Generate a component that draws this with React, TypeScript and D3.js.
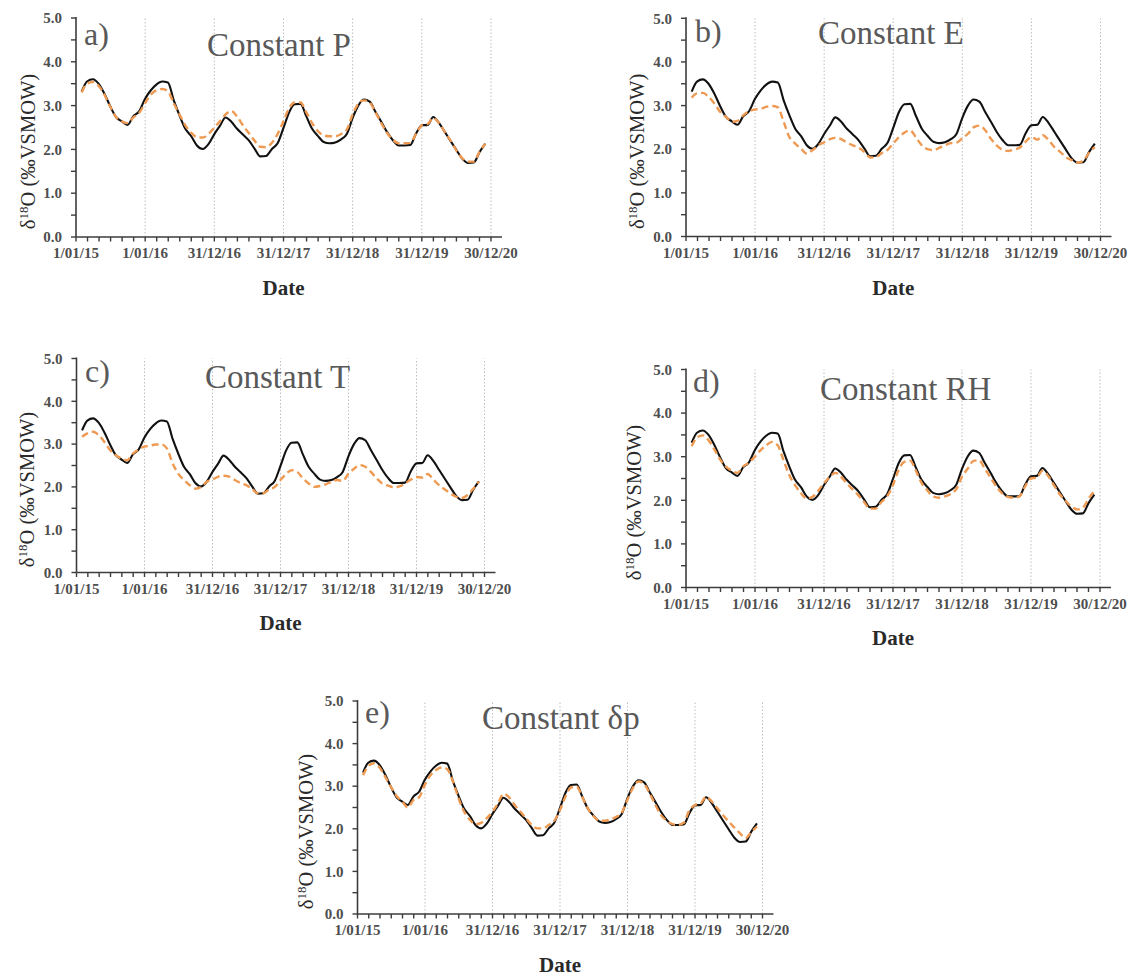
import React from 'react';
import * as d3 from 'd3';

// ---------- data (δ18O, ‰ VSMOW, monthly values, end of month Jan-2015 .. Nov-2020) ----------
const observed = [
  3.32, 3.55, 3.60, 3.50, 3.27, 2.99, 2.74, 2.64, 2.56, 2.76,
  2.87, 3.15, 3.35, 3.48, 3.55, 3.53, 3.12, 2.78, 2.47, 2.30,
  2.09, 2.01, 2.12, 2.35, 2.55, 2.73, 2.63, 2.47, 2.34, 2.21,
  2.02, 1.84, 1.85, 2.01, 2.14, 2.49, 2.86, 3.03, 3.04, 2.76,
  2.47, 2.31, 2.17, 2.14, 2.16, 2.23, 2.35, 2.72, 3.01, 3.14,
  3.09, 2.86, 2.63, 2.40, 2.21, 2.09, 2.09, 2.10, 2.36, 2.55,
  2.56, 2.74, 2.60, 2.40, 2.19, 1.99, 1.79, 1.69, 1.70, 1.94, 2.13,
];

const constantP = [
  3.30, 3.50, 3.54, 3.45, 3.25, 2.98, 2.74, 2.64, 2.60, 2.73,
  2.83, 3.05, 3.25, 3.35, 3.38, 3.33, 3.05, 2.80, 2.55, 2.38,
  2.28, 2.27, 2.35, 2.50, 2.65, 2.80, 2.88, 2.75, 2.55, 2.38,
  2.20, 2.06, 2.05, 2.15, 2.35, 2.65, 2.95, 3.07, 3.07, 2.85,
  2.60, 2.42, 2.32, 2.30, 2.30, 2.35, 2.45, 2.80, 3.05, 3.12,
  3.07, 2.85, 2.60, 2.38, 2.22, 2.14, 2.14, 2.15, 2.35, 2.55,
  2.58, 2.72, 2.60, 2.40, 2.20, 1.98, 1.80, 1.72, 1.72, 1.95, 2.13,
];

const constantE = [
  3.18, 3.28, 3.29, 3.20, 3.05, 2.86, 2.74, 2.63, 2.65, 2.78,
  2.87, 2.91, 2.93, 2.97, 2.99, 2.96, 2.63, 2.28, 2.13, 2.01,
  1.90, 1.98, 2.09, 2.16, 2.23, 2.26, 2.23, 2.15, 2.09, 2.04,
  1.94, 1.81, 1.82, 1.91, 1.98, 2.13, 2.28, 2.38, 2.43, 2.27,
  2.09, 2.00, 1.98, 2.03, 2.09, 2.14, 2.15, 2.25, 2.36, 2.50,
  2.54, 2.44, 2.24, 2.09, 1.99, 1.96, 1.99, 2.04, 2.17, 2.28,
  2.22, 2.32, 2.21, 2.05, 1.94, 1.82, 1.75, 1.69, 1.74, 1.92, 2.05,
];

const constantT = [
  3.17, 3.25, 3.29, 3.21, 3.05, 2.86, 2.74, 2.66, 2.62, 2.78,
  2.87, 2.94, 2.96, 2.99, 2.99, 2.90, 2.55, 2.31, 2.16, 2.04,
  1.96, 2.00, 2.12, 2.17, 2.24, 2.26, 2.24, 2.16, 2.09, 2.04,
  1.96, 1.85, 1.85, 1.94, 2.00, 2.16, 2.31, 2.39, 2.35, 2.20,
  2.08, 2.00, 2.02, 2.06, 2.12, 2.16, 2.14, 2.31, 2.43, 2.51,
  2.47, 2.35, 2.20, 2.08, 2.03, 1.99, 2.01, 2.08, 2.17, 2.23,
  2.22, 2.30, 2.17, 2.04, 1.94, 1.85, 1.77, 1.74, 1.81, 1.96, 2.12,
];

const constantRH = [
  3.24, 3.44, 3.49, 3.38, 3.17, 2.94, 2.77, 2.68, 2.63, 2.78,
  2.86, 3.00, 3.15, 3.26, 3.34, 3.26, 2.92, 2.58, 2.35, 2.16,
  2.04, 2.08, 2.22, 2.39, 2.54, 2.63, 2.54, 2.39, 2.25, 2.12,
  1.96, 1.81, 1.81, 1.96, 2.09, 2.35, 2.71, 2.88, 2.91, 2.69,
  2.40, 2.23, 2.09, 2.06, 2.09, 2.14, 2.25, 2.54, 2.73, 2.90,
  2.92, 2.73, 2.52, 2.32, 2.16, 2.08, 2.06, 2.09, 2.32, 2.50,
  2.52, 2.68, 2.56, 2.35, 2.14, 1.99, 1.86, 1.79, 1.83, 2.04, 2.22,
];

const constantDp = [
  3.26, 3.47, 3.54, 3.44, 3.22, 2.99, 2.77, 2.64, 2.50, 2.68,
  2.74, 3.03, 3.26, 3.38, 3.44, 3.40, 3.11, 2.72, 2.40, 2.21,
  2.11, 2.14, 2.25, 2.40, 2.61, 2.82, 2.74, 2.56, 2.40, 2.25,
  2.09, 2.01, 2.01, 2.09, 2.19, 2.44, 2.77, 2.97, 2.99, 2.75,
  2.48, 2.30, 2.19, 2.19, 2.22, 2.28, 2.38, 2.68, 2.97, 3.11,
  3.05, 2.83, 2.56, 2.32, 2.19, 2.11, 2.09, 2.14, 2.43, 2.56,
  2.60, 2.75, 2.64, 2.48, 2.32, 2.17, 2.03, 1.89, 1.78, 1.93, 2.05,
];

const xTickLabels = ['1/01/15', '1/01/16', '31/12/16', '31/12/17', '31/12/18', '31/12/19', '30/12/20'];
const yTickValues = [0, 1, 2, 3, 4, 5];
const panelLetters = ['a)', 'b)', 'c)', 'd)', 'e)'];
const panelTitles = ['Constant P', 'Constant E', 'Constant T', 'Constant RH', 'Constant δp'];
const panelSeries = [constantP, constantE, constantT, constantRH, constantDp];

// ---------- time helpers ----------
const startDate = new Date(2015, 0, 1);
const dates = d3
  .timeMonth.range(new Date(2015, 1, 1), new Date(2020, 11, 2))
  .map((d) => d3.timeDay.offset(d, -1));
const dayOffsets = dates.map((d) => d3.timeDay.count(startDate, d));
const majorStep = 365;
const totalDays = majorStep * 6;
const majorTicks = d3.range(7).map((i) => i * majorStep);
const minorTicks = d3.range(37).map((i) => (i * totalDays) / 36);

// ---------- layout ----------
const layouts = [
  { x0: 76, x1: 491, top: 18, bottom: 237, yLabX: 28, letterX: 84, letterY: 45, titleX: 207, titleY: 56, dateY: 295 },
  { x0: 686, x1: 1100.5, top: 18.3, bottom: 236.5, yLabX: 637, letterX: 695, letterY: 42, titleX: 818, titleY: 44, dateY: 295 },
  { x0: 76.5, x1: 484.5, top: 358.5, bottom: 572.5, yLabX: 27, letterX: 85, letterY: 382, titleX: 205, titleY: 388, dateY: 630 },
  { x0: 686, x1: 1100, top: 369.5, bottom: 587.5, yLabX: 634, letterX: 693, letterY: 392, titleX: 820, titleY: 400, dateY: 645 },
  { x0: 357.5, x1: 762.5, top: 701, bottom: 914, yLabX: 306, letterX: 365, letterY: 723, titleX: 482, titleY: 729, dateY: 972 },
];

const SERIF = "'Liberation Serif', 'Times New Roman', serif";
const AXIS = '#3c3c3c';
const ORANGE = '#EE9A52';

function Panel({ idx }: { idx: number }) {
  const L = layouts[idx];
  const x = d3.scaleLinear().domain([0, totalDays]).range([L.x0, L.x1]);
  const y = d3.scaleLinear().domain([0, 5]).range([L.bottom, L.top]);
  const line = d3
    .line<number>()
    .x((_, i) => x(dayOffsets[i]))
    .y((v) => y(v))
    .curve(d3.curveMonotoneX);
  const yMinor = d3.range(0, 5.01, 0.5);
  const cx = (L.x0 + L.x1) / 2;
  const cy = (L.top + L.bottom) / 2 + 24;
  const tickStyle = { fontFamily: SERIF, fontSize: 15, fontWeight: 700 as const };

  return (
    <g>
      {majorTicks.slice(1).map((t) => (
        <line key={'g' + t} x1={x(t)} x2={x(t)} y1={L.bottom} y2={L.top}
          stroke="#bdbdbd" strokeWidth={1} strokeDasharray="1.5,2" />
      ))}
      <path d={line(observed) || ''} fill="none" stroke="#111" strokeWidth={2.1} strokeLinejoin="round" />
      <path d={line(panelSeries[idx]) || ''} fill="none" stroke={ORANGE} strokeWidth={2.4}
        strokeDasharray="7,4" strokeLinejoin="round" />
      <line x1={L.x0} x2={L.x1 + 11} y1={L.bottom} y2={L.bottom} stroke={AXIS} strokeWidth={1.6} />
      <line x1={L.x0} x2={L.x0} y1={L.bottom} y2={L.top - 1} stroke={AXIS} strokeWidth={1.6} />
      {minorTicks.map((t, i) => (
        <line key={'mt' + i} x1={x(t)} x2={x(t)} y1={L.bottom} y2={L.bottom + 4.5} stroke={AXIS} strokeWidth={1.4} />
      ))}
      {yMinor.map((v, i) => (
        <line key={'yt' + i} x1={L.x0 - 5} x2={L.x0} y1={y(v)} y2={y(v)} stroke={AXIS} strokeWidth={1.4} />
      ))}
      {majorTicks.map((t, i) => (
        <text key={'xl' + i} x={x(t)} y={L.bottom + 21} textAnchor="middle" style={tickStyle}
          fill="#4e4e4e">{xTickLabels[i]}</text>
      ))}
      {yTickValues.map((v) => (
        <text key={'yl' + v} x={L.x0 - 14} y={y(v)} dy="0.35em" textAnchor="end" style={tickStyle}
          fill="#4e4e4e">{d3.format('.1f')(v)}</text>
      ))}
      <text x={cx} y={L.dateY} textAnchor="middle" style={{ fontFamily: SERIF, fontSize: 21, fontWeight: 700 }}
        fill="#2a2a2a">Date</text>
      <text transform={`translate(${L.yLabX},${cy}) rotate(-90)`} textAnchor="middle" dy="0.35em"
        style={{ fontFamily: SERIF, fontSize: 20.5 }} fill="#2a2a2a">
        δ<tspan fontSize={13} dy="-7">18</tspan><tspan dy="7">O (‰VSMOW)</tspan>
      </text>
      <text x={L.letterX} y={L.letterY} style={{ fontFamily: SERIF, fontSize: 32 }} fill="#595959">{panelLetters[idx]}</text>
      <text x={L.titleX} y={L.titleY} style={{ fontFamily: SERIF, fontSize: 33 }} fill="#595959">{panelTitles[idx]}</text>
    </g>
  );
}

export default function App() {
  return (
    <svg width={1133} height={978} viewBox="0 0 1133 978"
      style={{ position: 'absolute', left: 0, top: 0, background: '#fff' }}>
      <rect width={1133} height={978} fill="#fff" />
      {layouts.map((_, i) => (
        <Panel key={i} idx={i} />
      ))}
    </svg>
  );
}
